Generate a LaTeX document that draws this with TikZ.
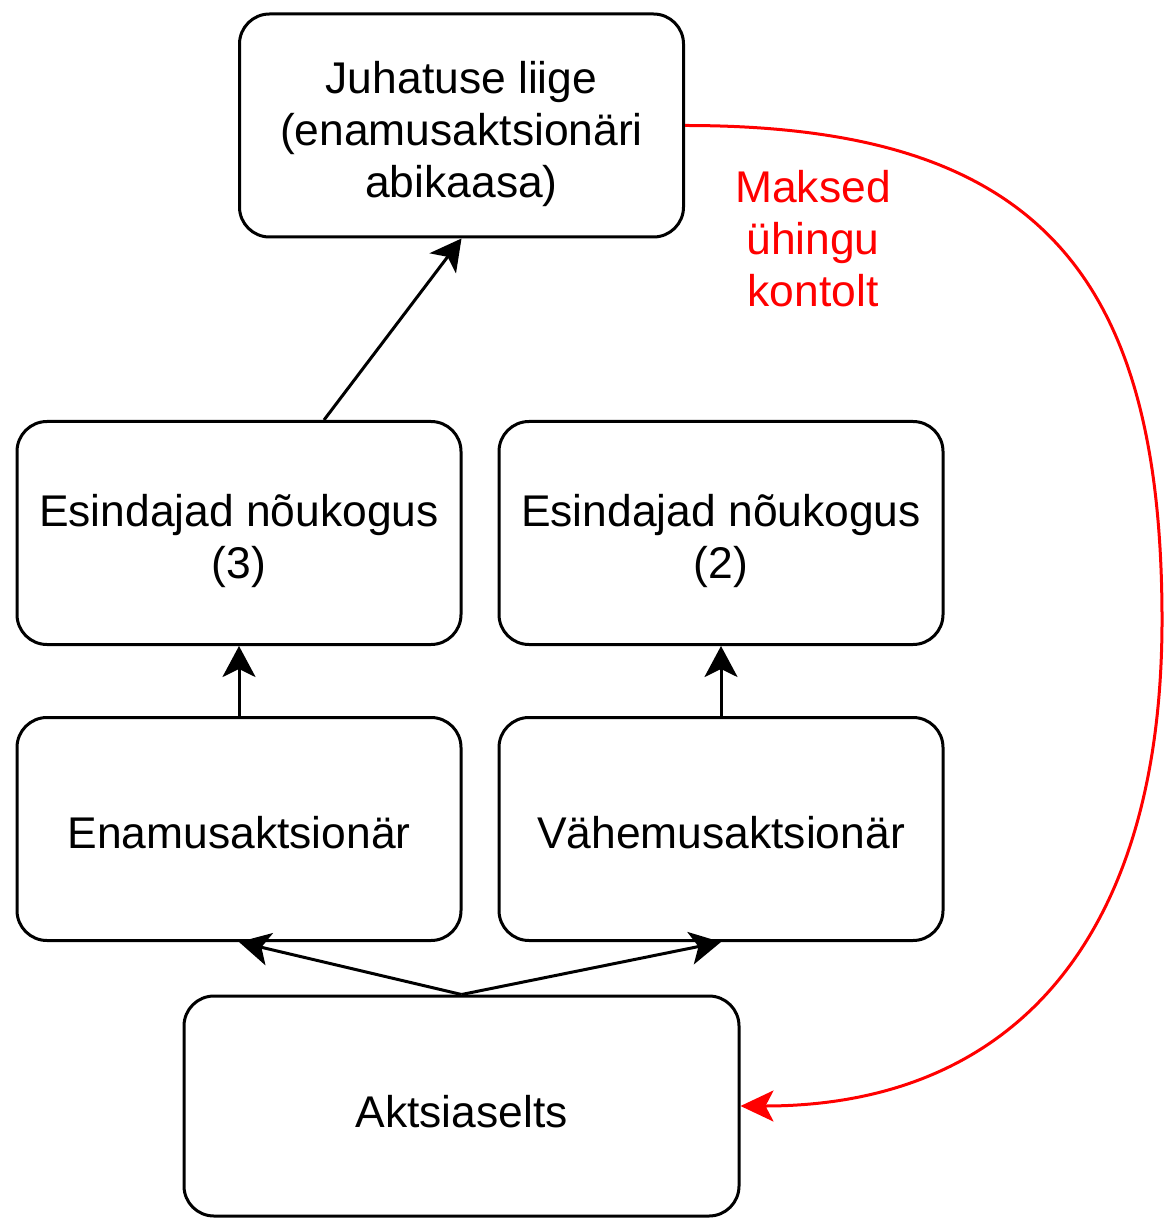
\documentclass[tikz,border=0pt]{standalone}
\usepackage{fontspec}
\setmainfont{Liberation Sans}
\usetikzlibrary{arrows.meta}
\newcommand{\ls}{\rule[-5.6pt]{0pt}{24.8pt}}
\begin{document}
\begin{tikzpicture}[x=0.5pt,y=-0.5pt,
  box/.style={draw, line width=1.5pt, rounded corners=15pt, minimum width=222pt, minimum height=111.5pt, inner sep=0pt},
  txt/.style={align=center, inner sep=0pt, font=\fontsize{22.2}{26}\selectfont},
  arr/.style={line width=1.5pt, -{Stealth[length=15.5pt,width=16.5pt,inset=4pt]}},
  redarr/.style={draw=red, line width=1.5pt, -{Stealth[length=16.5pt,width=15.5pt,inset=4pt]}},
  lbl/.style={text=red, align=center, inner sep=0pt, font=\fontsize{22.2}{26}\selectfont}
]
\useasboundingbox (0,0) rectangle (1163,1218);
\node[box] (jl) at (461.5,125.5) {};
\node[box] (e3) at (239,533) {};
\node[box] (e2) at (721,533) {};
\node[box] (en) at (239,829) {};
\node[box] (ve) at (721,829) {};
\node[box, minimum width=277.5pt, minimum height=110pt] (as) at (461.5,1106) {};
\node[txt] (jlt) at ([yshift=-3pt]jl.center) {\ls Juhatuse liige\\\ls(enamusaktsionäri\\\ls abikaasa)};
\node[txt] (e3t) at ([yshift=-3pt]e3.center) {\ls Esindajad nõukogus\\\ls(3)};
\node[txt] (e2t) at ([yshift=-3pt]e2.center) {\ls Esindajad nõukogus\\\ls(2)};
\node[txt] (ent) at ([yshift=-3pt]en.center) {\ls Enamusaktsionär};
\node[txt] (vet) at ([yshift=-3pt]ve.center) {\ls Vähemusaktsionär};
\node[txt] (ast) at ([yshift=-4pt]as.center) {\ls Aktsiaselts};
\coordinate (rc) at (1162,620);
\node[lbl] (pay) at (813,239) {Maksed\\ühingu\\kontolt};

\draw[arr] ([xshift=42.5pt]e3.north) -- (jl.south);
\draw[arr] (en.north) -- (e3.south);
\draw[arr] (ve.north) -- (e2.south);
\draw[arr] (as.north) -- (en.south);
\draw[arr] (as.north) -- (ve.south);
\draw[redarr] (jl.east) .. controls +(344,0) and +(0,-356) .. (rc)
  .. controls +(0,317) and +(274,0) .. (as.east);
\end{tikzpicture}
\end{document}
